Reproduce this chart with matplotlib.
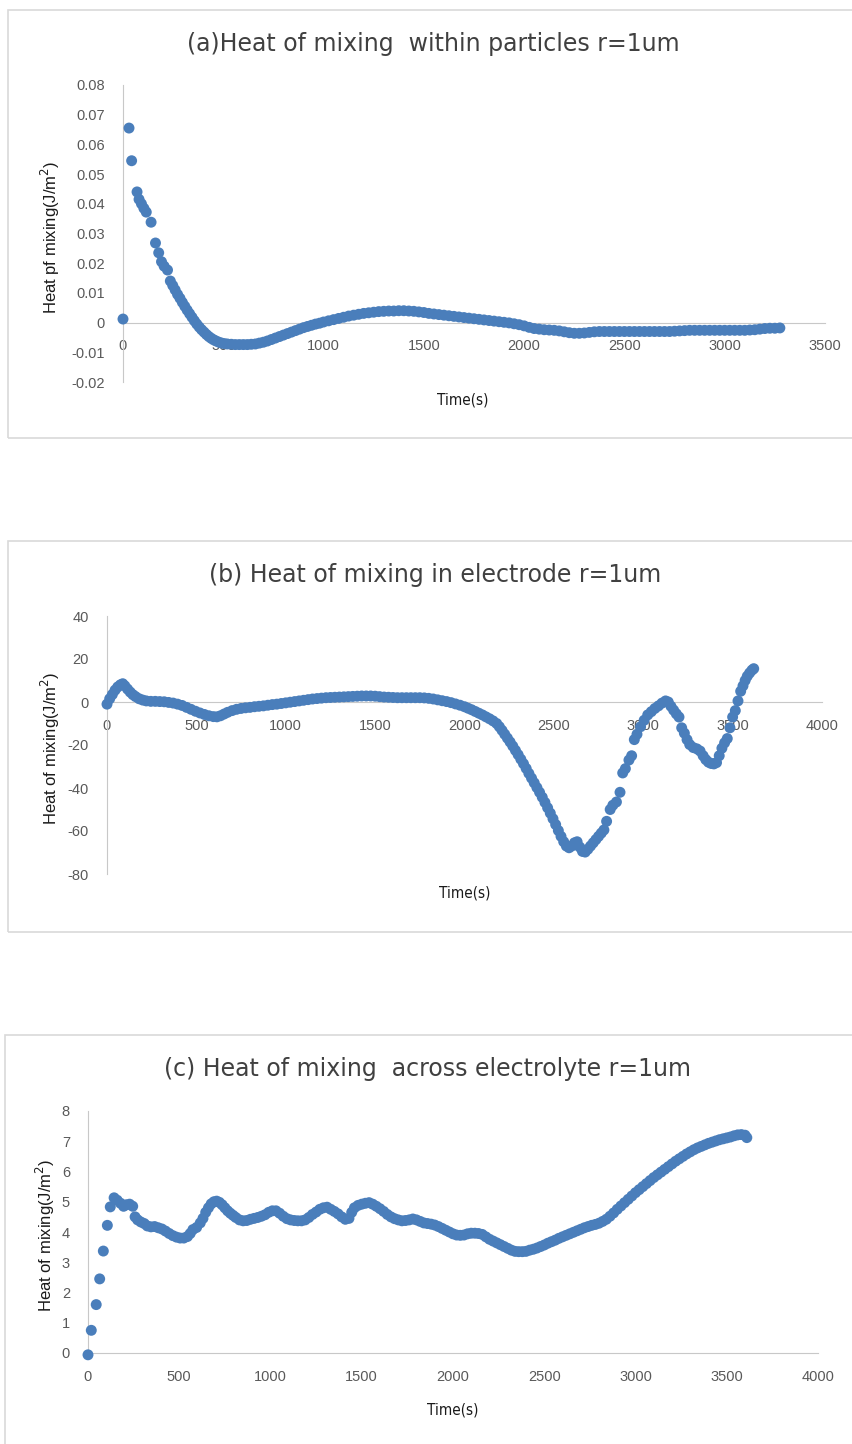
import matplotlib
matplotlib.use('Agg')
import matplotlib.pyplot as plt
from matplotlib.patches import Rectangle

plt.rcParams['font.family'] = ['Liberation Sans', 'DejaVu Sans']

# (a) heat of mixing within particles
time_a = [0, 30, 43, 70, 80, 92, 104, 116, 140, 162,
          178, 192, 205, 222, 236, 248, 260, 272, 284, 296,
          308, 320, 332, 344, 356, 368, 380, 392, 404, 416,
          428, 440, 452, 464, 478, 492, 506, 520, 540, 560,
          580, 600, 620, 640, 660, 680, 700, 720, 740, 760,
          780, 800, 820, 840, 860, 880, 900, 920, 940, 960,
          980, 1000, 1025, 1050, 1075, 1100, 1125, 1150, 1175, 1200,
          1225, 1250, 1275, 1300, 1325, 1350, 1375, 1400, 1425, 1450,
          1475, 1500, 1525, 1550, 1575, 1600, 1625, 1650, 1675, 1700,
          1725, 1750, 1775, 1800, 1825, 1850, 1875, 1900, 1925, 1950,
          1975, 2000, 2025, 2050, 2075, 2100, 2125, 2150, 2175, 2200,
          2225, 2250, 2275, 2300, 2325, 2350, 2375, 2400, 2425, 2450,
          2475, 2500, 2525, 2550, 2575, 2600, 2625, 2650, 2675, 2700,
          2725, 2750, 2775, 2800, 2825, 2850, 2875, 2900, 2925, 2950,
          2975, 3000, 3025, 3050, 3075, 3100, 3125, 3150, 3175, 3200,
          3225, 3250, 3275]
heat_a = [0.0012, 0.0655, 0.0545, 0.0440, 0.0415, 0.0400, 0.0385, 0.0372, 0.0338, 0.0268,
          0.0235, 0.0205, 0.0190, 0.0177, 0.0140, 0.0125, 0.0110, 0.0095, 0.0082, 0.0068,
          0.0055, 0.0042, 0.0030, 0.0018, 0.0006, -0.0005, -0.0015, -0.0024, -0.0032, -0.0040,
          -0.0047, -0.0053, -0.0058, -0.0062, -0.0066, -0.0069, -0.0071, -0.0072, -0.0073, -0.0074,
          -0.0074, -0.0074, -0.0074, -0.0073, -0.0072, -0.0069, -0.0066, -0.0062, -0.0057, -0.0052,
          -0.0047, -0.0042, -0.0037, -0.0032, -0.0027, -0.0022, -0.0017, -0.0013, -0.0009, -0.0005,
          -0.0002, 0.0002, 0.0006, 0.0010, 0.0014, 0.0018, 0.0022, 0.0025, 0.0028, 0.0031,
          0.0033, 0.0035, 0.0037, 0.0038, 0.0039, 0.0039, 0.0040, 0.0040, 0.0039, 0.0038,
          0.0036, 0.0034, 0.0031, 0.0029, 0.0027, 0.0025, 0.0023, 0.0021, 0.0019, 0.0017,
          0.0015, 0.0013, 0.0011, 0.0009, 0.0007, 0.0005, 0.0003, 0.0001, -0.0001, -0.0004,
          -0.0007, -0.0011, -0.0016, -0.0020, -0.0022, -0.0024, -0.0025, -0.0026, -0.0028, -0.0031,
          -0.0034, -0.0036, -0.0036, -0.0035, -0.0033, -0.0031, -0.0030, -0.0030, -0.0030, -0.0030,
          -0.0030, -0.0030, -0.0030, -0.0030, -0.0030, -0.0030, -0.0030, -0.0030, -0.0030, -0.0030,
          -0.0030, -0.0029, -0.0028, -0.0027, -0.0026, -0.0026, -0.0026, -0.0026, -0.0026, -0.0026,
          -0.0026, -0.0026, -0.0026, -0.0026, -0.0026, -0.0026, -0.0025, -0.0024, -0.0022, -0.0020,
          -0.0019, -0.0019, -0.0018]

# (b) heat of mixing in electrode
time_b = [0, 15, 30, 45, 60, 75, 88, 100, 115, 130,
          145, 160, 180, 200, 220, 245, 270, 295, 320, 345,
          370, 395, 420, 445, 470, 495, 520, 545, 570, 595,
          615, 635, 655, 675, 700, 725, 750, 775, 800, 825,
          850, 875, 900, 925, 950, 975, 1000, 1025, 1050, 1075,
          1100, 1125, 1150, 1175, 1200, 1225, 1250, 1275, 1300, 1325,
          1350, 1375, 1400, 1425, 1450, 1475, 1500, 1525, 1550, 1575,
          1600, 1625, 1650, 1675, 1700, 1725, 1750, 1775, 1800, 1825,
          1850, 1875, 1900, 1925, 1950, 1975, 2000, 2020, 2040, 2060,
          2080, 2100, 2120, 2140, 2160, 2180, 2195, 2210, 2225, 2240,
          2255, 2270, 2285, 2300, 2315, 2330, 2345, 2360, 2375, 2390,
          2405, 2420, 2435, 2450, 2465, 2480, 2495, 2510, 2525, 2540,
          2555, 2570, 2585, 2600, 2615, 2630, 2645, 2660, 2675, 2690,
          2705, 2720, 2735, 2750, 2765, 2780, 2795, 2815, 2830, 2850,
          2870, 2885, 2900, 2920, 2935, 2950, 2965, 2985, 3005, 3025,
          3045, 3065, 3085, 3105, 3125, 3140, 3155, 3170, 3185, 3200,
          3215, 3230, 3245, 3260, 3280, 3300, 3318, 3335, 3350, 3365,
          3380, 3395, 3410, 3425, 3440, 3455, 3470, 3485, 3500, 3515,
          3530, 3545, 3558, 3570, 3582, 3595, 3608, 3618]
heat_b = [-1.0, 1.5, 3.5, 5.5, 7.0, 8.0, 8.5, 7.5, 6.0, 4.6,
          3.4, 2.5, 1.5, 0.9, 0.5, 0.3, 0.3, 0.2, 0.1, -0.2,
          -0.5, -1.0, -1.6, -2.5, -3.4, -4.3, -5.1, -5.8, -6.4, -6.8,
          -6.9, -6.4, -5.6, -4.8, -4.0, -3.4, -3.0, -2.7, -2.5, -2.2,
          -2.0, -1.8, -1.5, -1.2, -1.0, -0.7, -0.4, -0.1, 0.2, 0.5,
          0.8, 1.1, 1.4, 1.6, 1.8, 2.0, 2.1, 2.2, 2.3, 2.4,
          2.5, 2.6, 2.7, 2.8, 2.8, 2.8, 2.7, 2.5, 2.3, 2.2,
          2.1, 2.0, 2.0, 2.0, 2.0, 2.0, 2.0, 1.9, 1.7, 1.4,
          1.0, 0.6, 0.2, -0.3, -0.9, -1.5, -2.2, -2.9, -3.6, -4.4,
          -5.2, -6.0, -6.9, -7.8, -8.8, -10.0, -11.5, -13.2, -15.0, -16.8,
          -18.6, -20.5, -22.5, -24.5, -26.6, -28.7, -30.9, -33.2, -35.4, -37.6,
          -39.8, -42.0, -44.3, -46.7, -49.2, -51.7, -54.3, -57.0, -59.8, -62.5,
          -65.0, -67.0, -67.8, -67.0, -65.5, -65.0, -67.5, -69.5, -69.8, -68.5,
          -67.0, -65.5, -64.0, -62.5, -61.0, -59.5, -55.5, -50.0, -48.0, -46.5,
          -42.0, -33.0, -31.0, -27.0, -25.0, -17.5, -15.0, -11.5, -8.5, -6.0,
          -4.5, -3.0, -1.8, -0.5, 0.5, 0.0, -2.0, -3.8, -5.5, -7.0,
          -12.0, -14.5, -17.5, -19.8, -21.2, -21.8, -22.8, -25.0, -26.8, -28.0,
          -28.6, -28.8, -28.2, -25.0, -21.5, -19.0, -17.0, -12.0, -7.0, -4.0,
          0.5, 5.0, 7.5, 10.0, 12.0, 13.5, 14.8, 15.5]

# (c) heat of mixing across electrolyte
time_c = [0, 18, 45, 64, 84, 106, 122, 143, 160, 178,
          195, 210, 228, 245, 258, 272, 290, 308, 325, 345,
          365, 385, 405, 425, 445, 465, 485, 505, 525, 545,
          560, 575, 595, 615, 630, 645, 660, 675, 690, 705,
          720, 735, 750, 765, 780, 795, 810, 830, 850, 870,
          890, 910, 930, 950, 970, 990, 1010, 1030, 1050, 1070,
          1090, 1110, 1130, 1150, 1170, 1190, 1210, 1230, 1250, 1270,
          1290, 1310, 1330, 1350, 1370, 1390, 1410, 1430, 1445, 1460,
          1480, 1500, 1520, 1540, 1560, 1580, 1600, 1620, 1640, 1660,
          1680, 1700, 1720, 1740, 1760, 1780, 1800, 1820, 1840, 1860,
          1880, 1900, 1920, 1940, 1960, 1980, 2000, 2020, 2040, 2060,
          2080, 2100, 2120, 2140, 2160, 2180, 2200, 2220, 2240, 2260,
          2280, 2300, 2320, 2340, 2360, 2380, 2400, 2420, 2440, 2460,
          2480, 2500, 2520, 2540, 2560, 2580, 2600, 2620, 2640, 2660,
          2680, 2700, 2720, 2740, 2760, 2780, 2800, 2820, 2840, 2860,
          2880, 2900, 2920, 2940, 2960, 2980, 3000, 3020, 3040, 3060,
          3080, 3100, 3120, 3140, 3160, 3180, 3200, 3220, 3240, 3260,
          3280, 3300, 3320, 3340, 3360, 3380, 3400, 3420, 3440, 3460,
          3480, 3500, 3520, 3540, 3560, 3580, 3600, 3610]
heat_c = [-0.06, 0.75, 1.6, 2.45, 3.37, 4.22, 4.83, 5.13, 5.05, 4.95,
          4.85, 4.90, 4.92, 4.85, 4.50, 4.40, 4.33, 4.28, 4.20, 4.17,
          4.18, 4.14, 4.10, 4.03, 3.95, 3.88, 3.83, 3.80, 3.80, 3.85,
          3.95, 4.08, 4.15, 4.30, 4.45, 4.65, 4.80, 4.93, 5.00, 5.02,
          4.98, 4.90, 4.80, 4.70, 4.62, 4.55, 4.48, 4.40, 4.37, 4.38,
          4.42, 4.45, 4.48, 4.52, 4.57, 4.65, 4.70, 4.70, 4.62, 4.52,
          4.44, 4.40, 4.38, 4.37, 4.37, 4.40, 4.48, 4.58, 4.66, 4.75,
          4.80, 4.82, 4.75, 4.68, 4.60, 4.50, 4.42, 4.45, 4.65, 4.80,
          4.88, 4.92, 4.95, 4.97, 4.92, 4.85, 4.77, 4.68, 4.58, 4.50,
          4.44, 4.40, 4.37, 4.38, 4.40, 4.43, 4.40, 4.35, 4.30, 4.28,
          4.26, 4.23, 4.18, 4.12, 4.06, 4.00, 3.94, 3.90, 3.89, 3.90,
          3.94, 3.96, 3.96, 3.95, 3.92, 3.84, 3.76, 3.70, 3.64, 3.58,
          3.52, 3.46, 3.40, 3.36, 3.35, 3.35, 3.36, 3.40, 3.43, 3.47,
          3.52, 3.57, 3.63, 3.68, 3.73, 3.79, 3.84, 3.89, 3.94, 3.99,
          4.04, 4.09, 4.14, 4.18, 4.22, 4.25, 4.29, 4.35, 4.42, 4.52,
          4.63, 4.75, 4.86, 4.97, 5.08, 5.19, 5.30, 5.40, 5.50, 5.60,
          5.70, 5.80, 5.89, 5.98, 6.07, 6.16, 6.25, 6.34, 6.42, 6.50,
          6.58, 6.65, 6.72, 6.78, 6.83, 6.88, 6.93, 6.97, 7.01, 7.05,
          7.08, 7.11, 7.14, 7.18, 7.21, 7.22, 7.20, 7.12]

ticks_a_x = [0, 500, 1000, 1500, 2000, 2500, 3000, 3500]
ticks_a_y = [0.08, 0.07, 0.06, 0.05, 0.04, 0.03, 0.02, 0.01, 0, -0.01, -0.02]
ticks_b_x = [0, 500, 1000, 1500, 2000, 2500, 3000, 3500, 4000]
ticks_b_y = [40, 20, 0, -20, -40, -60, -80]
ticks_c_x = [0, 500, 1000, 1500, 2000, 2500, 3000, 3500, 4000]
ticks_c_y = [0, 1, 2, 3, 4, 5, 6, 7, 8]

W, H = 853, 1444
BLUE = '#4A7EBB'
GRID = '#C8C8C8'

fig = plt.figure(figsize=(W / 100, H / 100), dpi=100, facecolor='white')


def fx(x):
    return x / W


def fy(y):
    return 1 - y / H


def panel(box, axes_px, t, v, xticks, yticks, title, title_xy, ylabel, ylabel_xy, xlabel_xy):
    # light frame around each chart
    x0, y0, x1, y1 = box
    fig.add_artist(Rectangle((fx(x0), fy(y1)), fx(x1 - x0), (y1 - y0) / H,
                             transform=fig.transFigure, fill=False,
                             edgecolor='#D9D9D9', linewidth=1.2))

    left, top, right, bottom = axes_px
    ax = fig.add_axes([fx(left), fy(bottom), fx(right - left), (bottom - top) / H])
    ax.set_facecolor('none')
    ax.scatter(t, v, s=62, color=BLUE, edgecolors='none', zorder=3, clip_on=False)

    ax.set_xlim(min(xticks), max(xticks))
    ax.set_ylim(min(yticks), max(yticks))
    ax.set_xticks(xticks)
    ax.set_yticks(yticks)
    ax.set_xticklabels([f'{x:g}' for x in xticks])
    ax.set_yticklabels([f'{y:g}' for y in yticks])

    # axis crosses at y = 0, labels hang under it
    ax.spines['top'].set_visible(False)
    ax.spines['right'].set_visible(False)
    ax.spines['bottom'].set_position(('data', 0))
    ax.spines['bottom'].set_color(GRID)
    ax.spines['left'].set_color(GRID)
    ax.tick_params(axis='x', length=0, pad=12, labelsize=10.5, labelcolor='#595959')
    ax.tick_params(axis='y', length=0, pad=13, labelsize=10.5, labelcolor='#595959')

    fig.text(fx(title_xy[0]), fy(title_xy[1]), title, ha='center', va='center',
             fontsize=17, color='#404040', family='DejaVu Sans')
    fig.text(fx(ylabel_xy[0]), fy(ylabel_xy[1]), ylabel, ha='center', va='center',
             rotation=90, fontsize=12, color='#1a1a1a')
    fig.text(fx(xlabel_xy[0]), fy(xlabel_xy[1]), 'Time(s)', ha='center', va='center',
             fontsize=11, color='#1a1a1a', family='DejaVu Sans', fontstretch='condensed')
    return ax


panel((8, 10, 870, 438), (123, 85, 825, 382), time_a, heat_a, ticks_a_x, ticks_a_y,
      '(a)Heat of mixing  within particles r=1um', (433, 44),
      r'Heat pf mixing(J/m$^2$)', (50, 237), (463, 400))

panel((8, 541, 870, 932), (107, 616, 822, 874), time_b, heat_b, ticks_b_x, ticks_b_y,
      '(b) Heat of mixing in electrode r=1um', (435, 575),
      r'Heat of mixing(J/m$^2$)', (50, 748), (465, 893))

panel((5, 1035, 870, 1460), (88, 1111, 818, 1353), time_c, heat_c, ticks_c_x, ticks_c_y,
      '(c) Heat of mixing  across electrolyte r=1um', (428, 1069),
      r'Heat of mixing(J/m$^2$)', (45, 1235), (453, 1410))

plt.savefig('out.png', dpi=100, facecolor='white')
